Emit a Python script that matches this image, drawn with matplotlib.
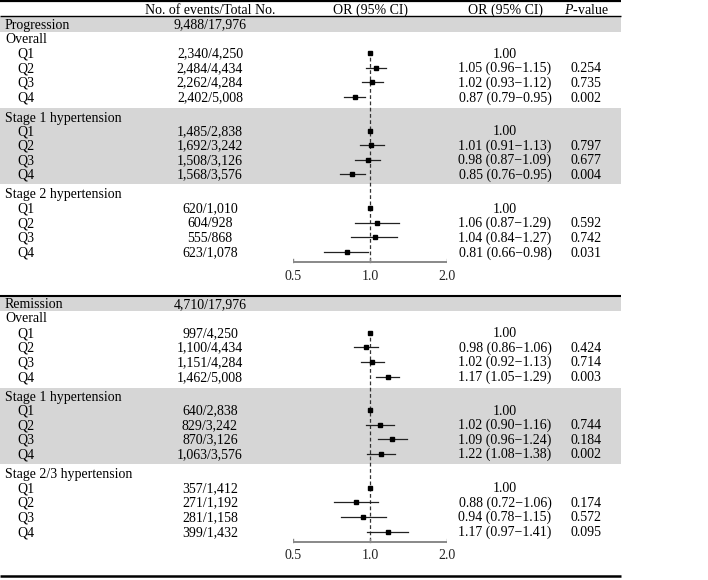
import matplotlib
matplotlib.use('Agg')
import matplotlib.pyplot as plt

plt.rcParams['font.family'] = ['Liberation Serif', 'DejaVu Serif']
plt.rcParams['mathtext.fontset'] = 'custom'
plt.rcParams['mathtext.rm'] = 'Liberation Serif'
plt.rcParams['mathtext.it'] = 'Liberation Serif:italic'

quartiles = ['Q1', 'Q2', 'Q3', 'Q4']

# progression
prog_title = ['Progression', '9,488/17,976']
prog_groups = ['Overall', 'Stage 1 hypertension', 'Stage 2 hypertension']
prog_events = [['2,340/4,250', '2,484/4,434', '2,262/4,284', '2,402/5,008'],
               ['1,485/2,838', '1,692/3,242', '1,508/3,126', '1,568/3,576'],
               ['620/1,010', '604/928', '555/868', '623/1,078']]
prog_ci_text = [['1.00', '1.05 (0.96\u22121.15)', '1.02 (0.93\u22121.12)', '0.87 (0.79\u22120.95)'],
                ['1.00', '1.01 (0.91\u22121.13)', '0.98 (0.87\u22121.09)', '0.85 (0.76\u22120.95)'],
                ['1.00', '1.06 (0.87\u22121.29)', '1.04 (0.84\u22121.27)', '0.81 (0.66\u22120.98)']]
prog_p = [['', '0.254', '0.735', '0.002'],
          ['', '0.797', '0.677', '0.004'],
          ['', '0.592', '0.742', '0.031']]
prog_or = [[1.00, 1.05, 1.02, 0.87], [1.00, 1.01, 0.98, 0.85], [1.00, 1.06, 1.04, 0.81]]
prog_lo = [[1.00, 0.96, 0.93, 0.79], [1.00, 0.91, 0.87, 0.76], [1.00, 0.87, 0.84, 0.66]]
prog_hi = [[1.00, 1.15, 1.12, 0.95], [1.00, 1.13, 1.09, 0.95], [1.00, 1.29, 1.27, 0.98]]

# remission
rem_title = ['Remission', '4,710/17,976']
rem_groups = ['Overall', 'Stage 1 hypertension', 'Stage 2/3 hypertension']
rem_events = [['997/4,250', '1,100/4,434', '1,151/4,284', '1,462/5,008'],
              ['640/2,838', '829/3,242', '870/3,126', '1,063/3,576'],
              ['357/1,412', '271/1,192', '281/1,158', '399/1,432']]
rem_ci_text = [['1.00', '0.98 (0.86\u22121.06)', '1.02 (0.92\u22121.13)', '1.17 (1.05\u22121.29)'],
               ['1.00', '1.02 (0.90\u22121.16)', '1.09 (0.96\u22121.24)', '1.22 (1.08\u22121.38)'],
               ['1.00', '0.88 (0.72\u22121.06)', '0.94 (0.78\u22121.15)', '1.17 (0.97\u22121.41)']]
rem_p = [['', '0.424', '0.714', '0.003'],
         ['', '0.744', '0.184', '0.002'],
         ['', '0.174', '0.572', '0.095']]
# marks as drawn in the figure
rem_or = [[1.00, 0.96, 1.02, 1.17], [1.00, 1.09, 1.22, 1.10], [1.00, 0.88, 0.94, 1.17]]
rem_lo = [[1.00, 0.86, 0.92, 1.05], [1.00, 0.96, 1.07, 0.97], [1.00, 0.72, 0.77, 0.97]]
rem_hi = [[1.00, 1.07, 1.13, 1.30], [1.00, 1.24, 1.39, 1.25], [1.00, 1.07, 1.15, 1.41]]

ticks = [0.5, 1.0, 2.0]
tick_labels = ['0.5', '1.0', '2.0']

W, H = 708, 580
fig = plt.figure(figsize=(W / 100, H / 100), dpi=100)
ax = fig.add_axes([0, 0, 1, 1])
ax.set_xlim(0, W)
ax.set_ylim(H, 0)
ax.axis('off')

x0, x1 = 293.3, 447.3
fx = fig.add_axes([x0 / W, 0, (x1 - x0) / W, 1])
fx.set_xscale('log', base=2)
fx.set_xlim(0.5, 2.0)
fx.set_ylim(H, 0)
fx.axis('off')
fx.patch.set_alpha(0)

fs = 10
gray = '#d6d6d6'
tab_r = 621
x_label, x_q, x_ev, x_ci, x_p = 5, 17, 210, 505, 586
bl = 4.6  # baseline offset below the row centre


def txt(a, x, y, s, ha='center', **kw):
    a.text(x, y + bl, s, ha=ha, va='baseline', fontsize=fs, **kw)


# header
ax.plot([0, tab_r], [1, 1], color='black', lw=1.6, solid_capstyle='butt')
txt(ax, x_ev, 9.5, 'No. of events/Total No.')
txt(fx, 1.0, 9.5, 'OR (95% CI)')
txt(ax, x_ci, 9.5, 'OR (95% CI)')
txt(ax, x_p, 9.5, r'$\mathit{P}$-value')
ax.plot([0, tab_r], [15.5, 15.5], color='black', lw=1.0, solid_capstyle='butt')

group_rel = [14, 93, 169.5]
q_rel = [[29, 43.5, 58, 73], [106.5, 121, 135.5, 150], [184, 198.5, 213, 228]]

panels = [(24, prog_title, prog_groups, prog_events, prog_ci_text, prog_p, prog_or, prog_lo, prog_hi),
          (303.5, rem_title, rem_groups, rem_events, rem_ci_text, rem_p, rem_or, rem_lo, rem_hi)]

for y0, title, groups, events, ci_text, pv, ors, los, his in panels:
    ax.fill_between([0, tab_r], y0 - 7.5, y0 + 7.5, color=gray, lw=0)
    ax.fill_between([0, tab_r], y0 + 84, y0 + 160, color=gray, lw=0)
    txt(ax, x_label, y0, title[0], ha='left')
    txt(ax, x_ev, y0, title[1])

    fx.plot([1.0, 1.0], [y0 + 27, y0 + 238], color='#333333', lw=0.9, ls=(0, (3, 2)))

    for g in range(3):
        txt(ax, x_label, y0 + group_rel[g], groups[g], ha='left')
        for i in range(4):
            yy = y0 + q_rel[g][i]
            txt(ax, x_q, yy, quartiles[i], ha='left')
            txt(ax, x_ev, yy, events[g][i])
            txt(ax, x_ci, yy, ci_text[g][i])
            txt(ax, x_p, yy, pv[g][i])
            if i > 0:
                fx.plot([los[g][i], his[g][i]], [yy, yy], color='#222222', lw=0.9)
            fx.plot([ors[g][i]], [yy], marker='s', ms=3.3, color='black', ls='none')

    ya = y0 + 238
    fx.plot([0.5, 2.0], [ya, ya], color='#888888', lw=1.4, solid_capstyle='butt')
    for t, lab in zip(ticks, tick_labels):
        fx.plot([t, t], [ya, ya - 3], color='#888888', lw=1.0)
        txt(fx, t, y0 + 251, lab, color='#222222')

ax.plot([0, tab_r], [296, 296], color='black', lw=1.5, solid_capstyle='butt')
ax.plot([0, tab_r], [576, 576], color='black', lw=1.8, solid_capstyle='butt')

fig.savefig('out.png', dpi=100)
